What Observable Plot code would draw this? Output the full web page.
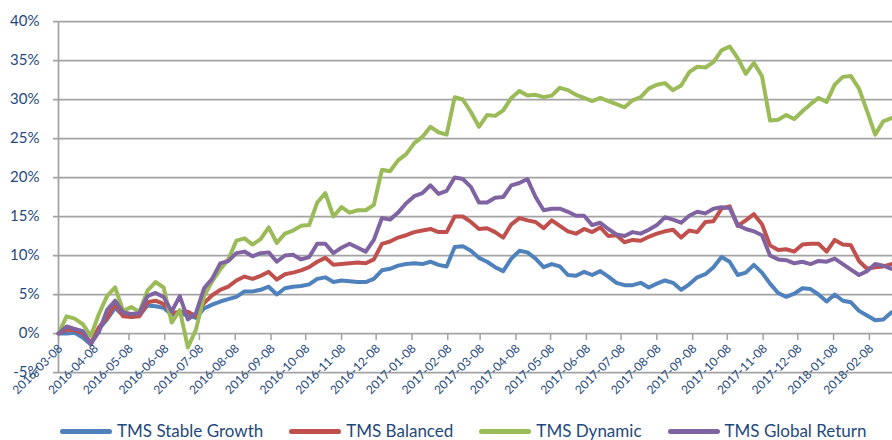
<!DOCTYPE html>
<html><head><meta charset="utf-8">
<script src="https://cdn.jsdelivr.net/npm/d3@7"></script>
<script src="https://cdn.jsdelivr.net/npm/@observablehq/plot@0.6"></script>
<style>
body{margin:0;background:#fff;font-family:Lato,sans-serif;}
#wrap{position:relative;width:892px;height:440px;}
#legend{position:absolute;left:0;top:422px;height:18px;line-height:18px;display:flex;align-items:center;padding-left:60px;gap:26px;font-family:Lato,sans-serif;font-size:17px;color:#1F497D;white-space:nowrap;}
#legend .item{display:flex;align-items:center;height:18px;}
#legend .sw{display:inline-block;width:52px;height:5px;border-radius:2.5px;margin-right:5px;}
</style></head>
<body><div id="wrap"><div id="chart"></div><div id="legend"></div></div>
<script>
const dates = [
"2016-03-08","2016-03-15","2016-03-22","2016-03-29","2016-04-05","2016-04-12","2016-04-19","2016-04-26",
"2016-05-03","2016-05-10","2016-05-17","2016-05-24","2016-05-31","2016-06-07","2016-06-14","2016-06-21","2016-06-28",
"2016-07-05","2016-07-12","2016-07-19","2016-07-26","2016-08-02","2016-08-09","2016-08-16","2016-08-23","2016-08-30",
"2016-09-06","2016-09-13","2016-09-20","2016-09-27","2016-10-04","2016-10-11","2016-10-18","2016-10-25",
"2016-11-01","2016-11-08","2016-11-15","2016-11-22","2016-11-29","2016-12-06","2016-12-13","2016-12-20","2016-12-27",
"2017-01-03","2017-01-10","2017-01-17","2017-01-24","2017-01-31","2017-02-07","2017-02-14","2017-02-21","2017-02-28",
"2017-03-07","2017-03-14","2017-03-21","2017-03-28","2017-04-04","2017-04-11","2017-04-18","2017-04-25",
"2017-05-02","2017-05-09","2017-05-16","2017-05-23","2017-05-30","2017-06-06","2017-06-13","2017-06-20","2017-06-27",
"2017-07-04","2017-07-11","2017-07-18","2017-07-25","2017-08-01","2017-08-08","2017-08-15","2017-08-22","2017-08-29",
"2017-09-05","2017-09-12","2017-09-19","2017-09-26","2017-10-03","2017-10-10","2017-10-17","2017-10-24","2017-10-31",
"2017-11-07","2017-11-14","2017-11-21","2017-11-28","2017-12-05","2017-12-12","2017-12-19","2017-12-26",
"2018-01-02","2018-01-09","2018-01-16","2018-01-23","2018-01-30","2018-02-06","2018-02-13","2018-02-20","2018-02-27"
];
const stableGrowth = [
0,0,0.1,-0.5,-1.4,0.6,1.8,3.3,2.3,2.4,
2.3,3.6,3.5,3.3,2.4,2.6,2.3,2.0,3.2,3.7,
4.1,4.4,4.7,5.4,5.4,5.6,6.0,5.0,5.8,6.0,
6.1,6.3,7.0,7.2,6.6,6.8,6.7,6.6,6.6,7.0,
8.1,8.3,8.7,8.9,9.0,8.9,9.2,8.8,8.6,11.1,
11.2,10.6,9.7,9.2,8.5,8.0,9.6,10.6,10.4,9.6,
8.5,8.9,8.6,7.5,7.4,7.9,7.5,8.0,7.3,6.5,
6.2,6.2,6.5,5.9,6.4,6.8,6.5,5.6,6.3,7.2,
7.6,8.5,9.8,9.2,7.5,7.8,8.8,7.8,6.4,5.2,
4.7,5.1,5.8,5.7,5.0,4.1,5.0,4.2,4.0,2.9,
2.3,1.7,1.8,2.7
];
const balanced = [
0,0.5,0.4,0.0,-1.2,0.8,2.0,3.8,2.2,2.1,
2.2,4.0,4.2,3.8,2.6,2.8,2.8,2.2,3.9,4.9,
5.6,6.0,6.8,7.3,7.0,7.4,7.9,6.9,7.6,7.8,
8.1,8.5,9.2,9.7,8.8,8.9,9.0,9.1,9.0,9.5,
11.5,11.8,12.3,12.6,13.0,13.2,13.4,13.0,13.0,15.0,
15.0,14.3,13.4,13.5,13.0,12.3,14.0,14.8,14.5,14.3,
13.5,14.5,13.8,13.1,12.8,13.4,13.0,13.6,12.5,12.6,
11.7,12.0,11.9,12.4,12.8,13.1,13.3,12.3,13.2,13.0,
14.3,14.4,16.0,16.3,13.8,14.5,15.3,14.0,11.3,10.7,
10.8,10.5,11.4,11.5,11.5,10.5,12.0,11.4,11.3,9.3,
8.3,8.5,8.6,8.9
];
const dynamic = [
0,2.2,1.9,1.2,-0.3,2.5,4.8,5.9,2.9,3.4,
2.8,5.5,6.6,5.9,1.4,3.0,-1.8,0.5,4.8,6.7,
8.2,9.5,11.9,12.2,11.4,12.1,13.6,11.6,12.8,13.2,
13.8,13.9,16.8,18.0,15.0,16.2,15.5,15.8,15.8,16.5,
21.0,20.8,22.2,23.0,24.4,25.2,26.5,25.8,25.5,30.3,
30.0,28.4,26.5,28.0,27.9,28.6,30.2,31.1,30.5,30.6,
30.3,30.5,31.5,31.2,30.6,30.2,29.8,30.2,29.8,29.4,
29.0,29.9,30.3,31.4,31.9,32.1,31.2,31.8,33.5,34.2,
34.1,34.8,36.3,36.8,35.3,33.3,34.7,33.0,27.3,27.4,
28.0,27.5,28.5,29.4,30.2,29.7,31.9,32.9,33.0,31.4,
28.5,25.5,27.2,27.6
];
const globalReturn = [
0,0.9,0.6,0.3,-1.3,0.2,3.0,4.2,2.7,2.5,
2.6,4.8,5.2,4.7,2.8,4.8,1.8,2.6,5.8,7.0,
9.0,9.3,10.3,10.5,9.9,10.3,10.4,9.2,10.0,10.1,
9.5,9.8,11.5,11.5,10.3,11.0,11.5,11.0,10.5,12.0,
14.8,14.6,15.5,16.7,17.6,18.0,19.0,17.9,18.3,20.0,
19.8,18.8,16.8,16.8,17.4,17.5,19.0,19.3,19.8,17.5,
15.8,16.0,16.0,15.6,15.1,15.1,13.9,14.2,13.4,12.7,
12.5,13.0,12.8,13.3,13.9,14.9,14.6,14.2,15.1,15.6,
15.4,16.0,16.2,16.1,13.9,13.4,13.1,12.6,10.0,9.5,
9.4,9.0,9.2,8.9,9.3,9.2,9.6,8.9,8.2,7.5,
8.0,8.9,8.7,8.3
];
const seriesNames = ["TMS Stable Growth","TMS Balanced","TMS Dynamic","TMS Global Return"];
const seriesColors = ["#4F81BD","#C0504D","#9BBB59","#8064A2"];
const xTickLabels = [
"2016-03-08","2016-04-08","2016-05-08","2016-06-08","2016-07-08","2016-08-08","2016-09-08","2016-10-08",
"2016-11-08","2016-12-08","2017-01-08","2017-02-08","2017-03-08","2017-04-08","2017-05-08","2017-06-08",
"2017-07-08","2017-08-08","2017-09-08","2017-10-08","2017-11-08","2017-12-08","2018-01-08","2018-02-08"
];
const yTicks = [-5,0,5,10,15,20,25,30,35,40];
const xDomain = ["2016-03-08","2018-02-28"];

const parse = d3.utcParse("%Y-%m-%d");
const allSeries = [stableGrowth, balanced, dynamic, globalReturn];
const rows = [];
allSeries.forEach((vals, s) => vals.forEach((v, i) => rows.push({date: parse(dates[i]), value: v, series: seriesNames[s]})));
const xTicks = xTickLabels.map(parse);
const grid = "#a3a3a3";
const textColor = "#1F497D";

const chart = Plot.plot({
  width: 892, height: 410,
  marginLeft: 58, marginRight: 0, marginTop: 21, marginBottom: 38,
  x: {type: "utc", domain: xDomain.map(parse), axis: null},
  y: {domain: [-5, 40], axis: null},
  color: {domain: seriesNames, range: seriesColors},
  style: {fontFamily: "Lato, sans-serif", background: "#fff", overflow: "visible"},
  marks: [
    Plot.ruleY(yTicks, {stroke: grid, strokeWidth: 1.75, insetLeft: -5}),
    Plot.axisY(yTicks, {tickSize: 0, tickPadding: 19, tickFormat: d => d + "%", fontSize: 15, fill: textColor, label: null}),
    Plot.ruleX([parse(xDomain[0])], {stroke: grid, strokeWidth: 1.75}),
    Plot.ruleX(xTicks, {y1: 0, y2: 0, insetBottom: -7, stroke: grid, strokeWidth: 1.5}),
    Plot.lineY(rows, {x: "date", y: "value", z: "series", stroke: "series", strokeWidth: 4, strokeLinejoin: "round", strokeLinecap: "round"}),
    Plot.text(xTicks, {x: d => d, y: 0, text: (d, i) => xTickLabels[i], rotate: -45, textAnchor: "end", dx: 2, dy: 13, fontSize: 12, fill: textColor})
  ]
});
document.getElementById("chart").appendChild(chart);

const legend = document.getElementById("legend");
seriesNames.forEach((n, i) => {
  const item = document.createElement("div");
  item.className = "item";
  const sw = document.createElement("span");
  sw.className = "sw";
  sw.style.background = seriesColors[i];
  const t = document.createElement("span");
  t.textContent = n;
  item.appendChild(sw); item.appendChild(t);
  legend.appendChild(item);
});
</script>
</body></html>
